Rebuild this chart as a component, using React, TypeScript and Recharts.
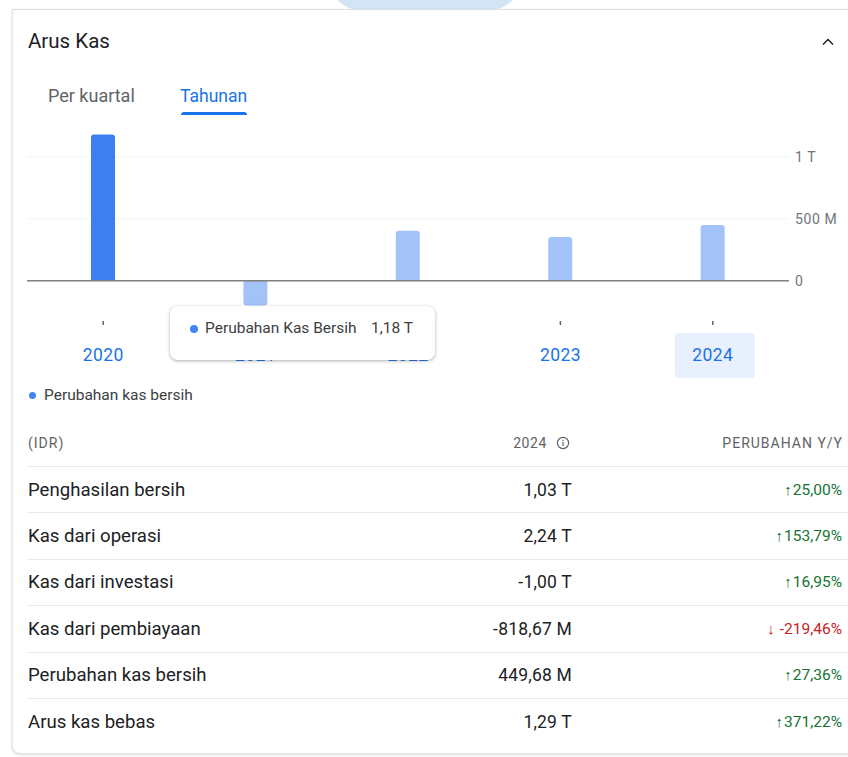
import React from 'react';
import { BarChart, Bar, XAxis, YAxis, CartesianGrid, ReferenceLine, Tooltip, Cell } from 'recharts';

const years = ['2020', '2021', '2022', '2023', '2024'];
const netCashChange = [1.18e12, -0.2e12, 0.403e12, 0.353e12, 0.44968e12];
const yTicks = [0, 5e11, 1e12];
const yTickLabels = ['0', '500 M', '1 T'];
const gridValues = [5e11, 1e12];
const selectedYear = '2024';
const hoveredIndex = 0;

const rowLabels = ['Penghasilan bersih', 'Kas dari operasi', 'Kas dari investasi', 'Kas dari pembiayaan', 'Perubahan kas bersih', 'Arus kas bebas'];
const rowValues = ['1,03 T', '2,24 T', '-1,00 T', '-818,67 M', '449,68 M', '1,29 T'];
const rowChanges = ['25,00%', '153,79%', '16,95%', '-219,46%', '27,36%', '371,22%'];
const rowUp = [true, true, true, false, true, true];

const data = years.map((y, i) => ({ year: y, value: netCashChange[i] }));

const FONT = 'Roboto, "Noto Sans", sans-serif';

function fmt(v: number) {
  if (Math.abs(v) >= 1e12) return (v / 1e12).toFixed(2).replace('.', ',') + ' T';
  return (v / 1e9).toFixed(2).replace('.', ',') + ' M';
}

const XTick = (props: any) => {
  const { x, y, payload } = props;
  const sel = payload.value === selectedYear;
  return (
    <g>
      {sel && <rect x={x - 38} y={y + 15} width={80} height={45} rx={4} fill="#e8f0fe" />}
      <rect x={x - 0.75} y={y + 3} width={1.5} height={4} fill="#5f6368" />
      <text x={x} y={y + 43} textAnchor="middle" fontSize={17.5} letterSpacing={0.4} fill="#1a73e8" fontFamily={FONT}>
        {payload.value}
      </text>
    </g>
  );
};

const TipContent = (props: any) => {
  const v = props.payload && props.payload.length ? props.payload[0].value : netCashChange[hoveredIndex];
  return (
    <div
      style={{
        width: 265,
        height: 54,
        boxSizing: 'border-box',
        background: '#fff',
        borderRadius: 8,
        boxShadow: '0 1px 3px rgba(60,64,67,0.3), 0 1px 4px rgba(60,64,67,0.15)',
        fontFamily: FONT,
        fontSize: 15.5,
        color: '#3c4043',
        position: 'relative',
      }}
    >
      <div style={{ position: 'absolute', left: 20, top: 19, width: 8, height: 8, borderRadius: 4, background: '#4285f4' }} />
      <div style={{ position: 'absolute', left: 35, top: 12, lineHeight: '20px' }}>Perubahan Kas Bersih</div>
      <div style={{ position: 'absolute', left: 201, top: 12, lineHeight: '20px' }}>{fmt(v)}</div>
    </div>
  );
};

export default function App() {
  return (
    <div style={{ position: 'absolute', left: 0, top: 0, width: 848, height: 757, background: '#fff', overflow: 'hidden', fontFamily: FONT }}>
      <div style={{ position: 'absolute', left: 330, top: -20, width: 190, height: 30, borderRadius: '0 0 60px 60px', background: '#d3e5f4' }} />
      <div
        style={{
          position: 'absolute',
          left: 12,
          top: 9,
          width: 860,
          height: 743,
          background: '#fff',
          borderLeft: '1px solid #e3e3e3',
          borderBottom: '1px solid #e3e3e3',
          borderTop: '1px solid #e0e0e0',
          borderRadius: '0 0 0 8px',
          boxShadow: '0 1px 3px rgba(60,64,67,0.18)',
        }}
      />
      <div style={{ position: 'absolute', left: 28, top: 28, fontSize: 20.5, lineHeight: '26px', color: '#202124' }}>Arus Kas</div>
      <svg style={{ position: 'absolute', left: 818, top: 34 }} width={20} height={16}>
        <polyline points="5,10.5 10,5.5 15,10.5" fill="none" stroke="#202124" strokeWidth={1.5} />
      </svg>
      <div style={{ position: 'absolute', left: 48, top: 85, fontSize: 18, lineHeight: '22px', color: '#5f6368' }}>Per kuartal</div>
      <div style={{ position: 'absolute', left: 180, top: 85, fontSize: 17.5, lineHeight: '22px', color: '#1a73e8' }}>Tahunan</div>
      <div style={{ position: 'absolute', left: 181, top: 112, width: 66, height: 3, borderRadius: '3px 3px 0 0', background: '#1a73e8' }} />

      <div style={{ position: 'absolute', left: 0, top: 0 }}>
        <BarChart width={848} height={400} data={data} margin={{ top: 132, right: 0, bottom: 0, left: 27 }}>
          <CartesianGrid vertical={false} horizontalValues={gridValues} stroke="#f1f3f4" />
          <XAxis
            dataKey="year"
            axisLine={false}
            tickLine={false}
            tickSize={0}
            tickMargin={0}
            height={82}
            interval={0}
            tick={<XTick />}
          />
          <YAxis
            orientation="right"
            width={59}
            domain={[-3e11, 1.2e12]}
            ticks={yTicks}
            tickFormatter={(v: number) => yTickLabels[yTicks.indexOf(v)]}
            axisLine={false}
            tickLine={false}
            tickSize={0}
            tickMargin={6}
            tick={{ fontSize: 14, fill: '#70757a', fontFamily: FONT, textAnchor: 'start', letterSpacing: 0.6 }}
          />
          <Bar dataKey="value" barSize={24} radius={[3, 3, 0, 0]} isAnimationActive={false} activeBar={false}>
            {data.map((d, i) => (
              <Cell key={d.year} fill={i === hoveredIndex ? '#3d7ff0' : '#a3c3f8'} />
            ))}
          </Bar>
          <ReferenceLine y={0} stroke="#7f7f7f" strokeWidth={1.5} />
          <Tooltip
            active={true}
            defaultIndex={hoveredIndex}
            cursor={false}
            position={{ x: 170, y: 306 }}
            isAnimationActive={false}
            content={<TipContent />}
            wrapperStyle={{ zIndex: 10, outline: 'none' }}
          />
        </BarChart>
      </div>

      <div style={{ position: 'absolute', left: 29, top: 392, width: 7, height: 7, borderRadius: 4, background: '#4285f4' }} />
      <div style={{ position: 'absolute', left: 44, top: 386, fontSize: 15.5, lineHeight: '19px', color: '#3c4043' }}>Perubahan kas bersih</div>

      <div style={{ position: 'absolute', left: 28, top: 434, fontSize: 14, lineHeight: '18px', color: '#5f6368', letterSpacing: 1 }}>(IDR)</div>
      <div style={{ position: 'absolute', left: 447, width: 100, top: 434, fontSize: 14, lineHeight: '18px', color: '#5f6368', textAlign: 'right', letterSpacing: 0.6 }}>2024</div>
      <svg style={{ position: 'absolute', left: 556, top: 436 }} width={14} height={14}>
        <circle cx={7} cy={7} r={5.6} fill="none" stroke="#5f6368" strokeWidth={1.2} />
        <rect x={6.4} y={6} width={1.2} height={4} fill="#5f6368" />
        <rect x={6.4} y={3.8} width={1.2} height={1.2} fill="#5f6368" />
      </svg>
      <div style={{ position: 'absolute', left: 602, width: 241, top: 434, fontSize: 14, lineHeight: '18px', color: '#5f6368', textAlign: 'right', letterSpacing: 1 }}>PERUBAHAN Y/Y</div>

      {rowLabels.map((lab, i) => {
        const lineY = 466 + i * 46.4;
        const cy = lineY + 23.5;
        return (
          <React.Fragment key={lab}>
            <div style={{ position: 'absolute', left: 27, top: lineY, width: 830, height: 1, background: '#e8eaed' }} />
            <div style={{ position: 'absolute', left: 28, top: cy - 12, fontSize: 18.6, lineHeight: '24px', color: '#202124' }}>{lab}</div>
            <div style={{ position: 'absolute', left: 372, width: 200, top: cy - 12, fontSize: 17.5, lineHeight: '24px', color: '#202124', textAlign: 'right', letterSpacing: 0.2 }}>{rowValues[i]}</div>
            <div style={{ position: 'absolute', left: 602, width: 240, top: cy - 12, fontSize: 15.5, lineHeight: '24px', color: rowUp[i] ? '#137333' : '#c5221f', textAlign: 'right' }}>
              <span style={{ fontSize: 15, marginRight: rowUp[i] ? 1 : 5 }}>{rowUp[i] ? '↑' : '↓'}</span>
              {rowChanges[i]}
            </div>
          </React.Fragment>
        );
      })}
    </div>
  );
}
